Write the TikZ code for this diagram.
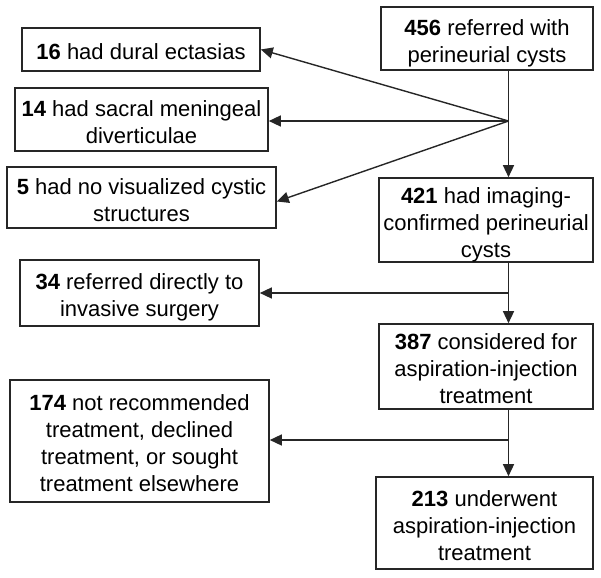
\documentclass[tikz,border=0pt]{standalone}
\usepackage{fontspec}
\setmainfont{Liberation Sans}
\usetikzlibrary{arrows.meta}
\newcommand\boxtext[1]{\raisebox{-5pt}[\height][\depth]{\begin{tabular}{@{}c@{}}#1\end{tabular}}}
\begin{document}
\begin{tikzpicture}[x=1pt,y=-1pt,
  box/.style={draw=black!85,line width=1.6pt,inner sep=0pt,
    font=\fontsize{22}{27}\selectfont},
  conn/.style={draw=black!85,line width=1.4pt},
  arr/.style={conn,-{Triangle[length=12pt,width=11pt]}}]
\useasboundingbox (0,0) rectangle (601,577);
\node[box,minimum width=212pt,minimum height=63pt] (n456) at (487,38.5) {\boxtext{\textbf{456} referred with\\perineurial cysts}};
\node[box,minimum width=238pt,minimum height=43pt] (n16) at (141,49.5) {\boxtext{\textbf{16} had dural ectasias}};
\node[box,minimum width=253pt,minimum height=63pt] (n14) at (141.5,119.5) {\boxtext{\textbf{14} had sacral meningeal\\diverticulae}};
\node[box,minimum width=269pt,minimum height=61pt] (n5) at (141.5,197.5) {\boxtext{\textbf{5} had no visualized cystic\\structures}};
\node[box,minimum width=214pt,minimum height=84pt] (n421) at (486,220) {\boxtext{\textbf{421} had imaging-\\confirmed perineurial\\cysts}};
\node[box,minimum width=239pt,minimum height=66pt] (n34) at (139.5,293) {\boxtext{\textbf{34} referred directly to\\invasive surgery}};
\node[box,minimum width=214pt,minimum height=85pt] (n387) at (486,366.5) {\boxtext{\textbf{387} considered for\\aspiration-injection\\treatment}};
\node[box,minimum width=259pt,minimum height=122pt] (n174) at (139.5,441) {\boxtext{\textbf{174} not recommended\\treatment, declined\\treatment, or sought\\treatment elsewhere}};
\node[box,minimum width=217pt,minimum height=92pt] (n213) at (484.5,523) {\boxtext{\textbf{213} underwent\\aspiration-injection\\treatment}};
\coordinate (b1) at (508.5,121);
\coordinate (b2) at (508.5,293);
\coordinate (b3) at (508.5,440);
\draw[conn] (n456.south -| b1) -- (b1);
\draw[arr] (b1) -- (n421.north -| b1);
\draw[arr] (b1) -- (n16.east);
\draw[arr] (b1) -- (n14.east |- b1);
\draw[arr] (b1) -- ([yshift=-4pt]n5.east);
\draw[conn] (n421.south -| b2) -- (b2);
\draw[arr] (b2) -- (n387.north -| b2);
\draw[arr] (b2) -- (n34.east |- b2);
\draw[conn] (n387.south -| b3) -- (b3);
\draw[arr] (b3) -- (n213.north -| b3);
\draw[arr] (b3) -- (n174.east |- b3);
\end{tikzpicture}
\end{document}
